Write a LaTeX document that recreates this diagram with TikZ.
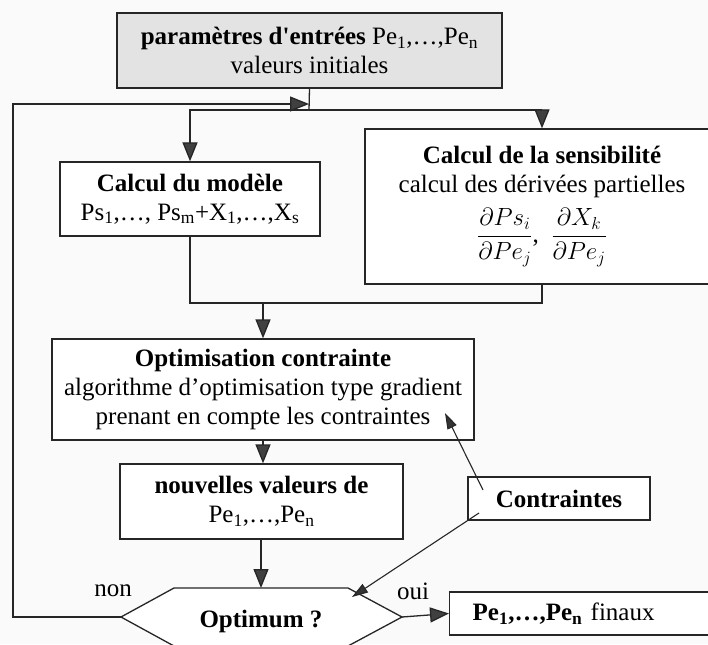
\documentclass[tikz,border=0pt]{standalone}
\usepackage{amsmath}
\usepackage{fontspec}
\setmainfont{Liberation Serif}
\usetikzlibrary{arrows.meta,calc}
\begin{document}
\begin{tikzpicture}[x=1pt,y=-1pt,
  every node/.style={font=\fontsize{25}{29}\selectfont},
  box/.style={draw=black!85, line width=1.3pt, inner sep=0pt, align=center, fill=white},
  link/.style={draw=black!85, line width=1.3pt},
  arr/.style={link, -{Triangle[length=19pt,width=15pt,fill=black!75]}},
  thin arr/.style={draw=black!85, line width=1.1pt, -{Triangle[length=16pt,width=10pt,fill=black!80]}},
  lbl/.style={inner sep=0pt}]
\useasboundingbox (0,0) rectangle (708,644);
\clip (0,0) rectangle (708,644);
\fill[gray!4] (0,0) rectangle (708,644);

% boxes
\node[box, fill=gray!22, minimum width=385, minimum height=75] (params) at (309.5,50.5)
  {\textbf{paramètres d\textquotesingle entrées} Pe\textsubscript{1},…,Pe\textsubscript{n}\\valeurs initiales};
\node[box, minimum width=260, minimum height=74] (modele) at (190,199)
  {\textbf{Calcul du modèle}\\Ps\textsubscript{1},…, Ps\textsubscript{m}+X\textsubscript{1},…,X\textsubscript{s}};
\node[box, minimum width=354, minimum height=155] (sens) at (542,206.5)
  {\textbf{Calcul de la sensibilité}\\calcul des dérivées partielles\\[10pt]
   $\dfrac{\partial Ps_i}{\partial Pe_j}$, \ $\dfrac{\partial X_k}{\partial Pe_j}$};
\node[box, minimum width=422, minimum height=101] (optim) at (263,389.5)
  {\textbf{Optimisation contrainte}\\algorithme d’optimisation type gradient\\prenant en compte les contraintes};
\node[box, minimum width=283, minimum height=75] (nouv) at (261.5,501.5)
  {\textbf{nouvelles valeurs de}\\Pe\textsubscript{1},…,Pe\textsubscript{n}};
\node[box, minimum width=182, minimum height=43] (contr) at (559,498.5)
  {\textbf{Contraintes}};
\node[box, anchor=west, minimum width=290, minimum height=43, text width=244, align=left, inner xsep=23pt] (fin) at (449,613.5)
  {\textbf{Pe\textsubscript{1},…,Pe\textsubscript{n}} finaux};

% decision hexagon
\coordinate (hW) at (121,617);
\coordinate (hNW) at (174,588);
\coordinate (hNE) at (348,588);
\coordinate (hE) at (402,617);
\coordinate (hSE) at (348,646);
\coordinate (hSW) at (174,646);
\coordinate (hN) at (261,588);
\draw[link, fill=white] (hW) -- (hNW) -- (hNE) -- (hE) -- (hSE) -- (hSW) -- cycle;
\node[lbl] (opt) at (261,621) {\textbf{Optimum ?}};
\node[lbl] (non) at (113,591) {non};
\node[lbl] (oui) at (413,591) {oui};

% junction points
\coordinate (split) at (309,110);
\coordinate (fb) at (309,104);
\coordinate (merge) at (263,303);
\coordinate (loopA) at (13,617);
\coordinate (c1) at (483,490);
\coordinate (t1) at (445,413);
\coordinate (c2) at (479,513);
\coordinate (t2) at (352,597);

% connectors
\draw[link] (params.south) -- (split);
\draw[arr] (split) -| (modele.north);
\draw[arr] (split) -| (sens.north);
\draw[link] (modele.south) |- (merge) -| (sens.south);
\draw[arr] (merge) -- (merge |- optim.north);
\draw[arr] (optim.south -| merge) -- (merge |- nouv.north);
\draw[arr] (nouv.south -| hN) -- (hN);
\draw[arr] (hE) -- (fin.west);
\draw[arr] (hW) -- (loopA) |- (fb);
\draw[thin arr] (c1) -- (t1);
\draw[thin arr] (c2) -- (t2);
\end{tikzpicture}
\end{document}
